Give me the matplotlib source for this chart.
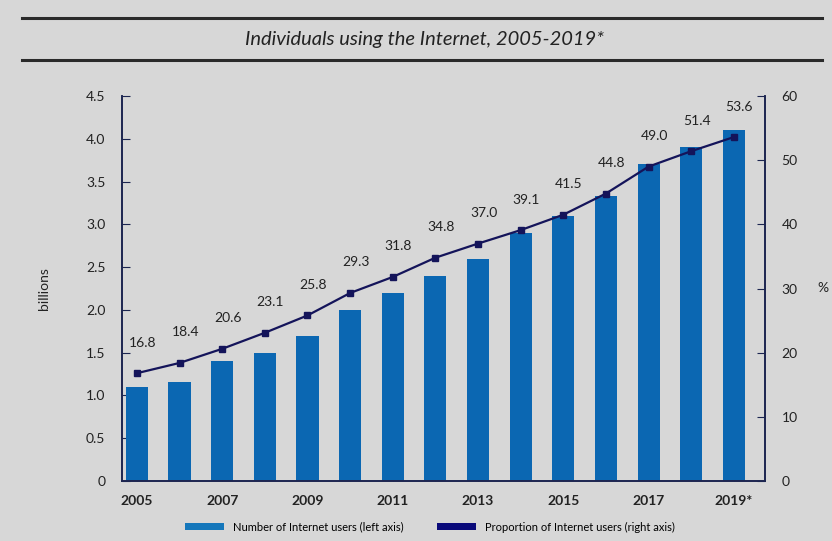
import matplotlib
matplotlib.use("Agg")
import matplotlib.pyplot as plt
from matplotlib.patches import Patch
from matplotlib.lines import Line2D
import numpy as np

plt.rcParams['font.family'] = ['Lato', 'DejaVu Sans']

years = ["2005", "2006", "2007", "2008", "2009", "2010", "2011", "2012",
         "2013", "2014", "2015", "2016", "2017", "2018", "2019*"]
users_billions = [1.1, 1.16, 1.4, 1.5, 1.7, 2.0, 2.2, 2.4, 2.6, 2.9, 3.1, 3.33, 3.7, 3.9, 4.1]
proportion_pct = [16.8, 18.4, 20.6, 23.1, 25.8, 29.3, 31.8, 34.8, 37.0, 39.1, 41.5, 44.8, 49.0, 51.4, 53.6]
left_ticks = [0, 0.5, 1.0, 1.5, 2.0, 2.5, 3.0, 3.5, 4.0, 4.5]
left_labels = ["0", "0.5", "1.0", "1.5", "2.0", "2.5", "3.0", "3.5", "4.0", "4.5"]
right_ticks = [0, 10, 20, 30, 40, 50, 60]

bg = "#d7d7d7"
bar_color = "#0b67b2"
navy = "#14145a"
spine_col = "#1c2550"

fig = plt.figure(figsize=(8.32, 5.41), dpi=100, facecolor=bg)
ax = fig.add_axes([122/832, 1-481/541, (765-122)/832, (481-96)/541])
ax.set_facecolor(bg)
x = np.arange(len(years))
ax.bar(x, users_billions, width=0.52, color=bar_color, zorder=2)
ax.set_ylim(0, 4.5)
ax.set_xlim(-0.35, len(years) - 1 + 0.73)
ax.set_yticks(left_ticks)
ax.set_yticklabels(left_labels)
ax.set_ylabel("billions", fontsize=10, color="#222222", labelpad=26)
ax.set_xticks(x[::2])
ax.set_xticklabels(years[::2], fontsize=10, fontweight='bold', color="#222222")
ax.set_xticks(x, minor=True)
ax.tick_params(axis='x', which='both', direction='in', length=4, color="#555555", pad=10)
ax.tick_params(axis='y', direction='in', length=6, color=spine_col, labelsize=10, labelcolor="#222222", pad=12)
ax.spines['top'].set_visible(False)
for s in ['left', 'bottom', 'right']:
    ax.spines[s].set_color(spine_col)
    ax.spines[s].set_linewidth(1.2)

ax2 = ax.twinx()
ax2.plot(x, proportion_pct, color=navy, linewidth=1.6, marker='s', markersize=5, zorder=3)
ax2.set_ylim(0, 60)
ax2.set_yticks(right_ticks)
ax2.tick_params(axis='y', direction='in', length=6, color=spine_col, labelsize=10, labelcolor="#222222", pad=12)
ax2.spines['top'].set_visible(False)
for s in ['left', 'bottom', 'right']:
    ax2.spines[s].set_color(spine_col)
    ax2.spines[s].set_linewidth(1.2)
ax2.set_ylabel("%", rotation=0, fontsize=10, color="#222222", labelpad=18, va='center')
for xi, v in zip(x, proportion_pct):
    ax2.annotate(f"{v:.1f}", (xi, v), xytext=(4, 22), textcoords='offset points',
                 ha='center', va='center', fontsize=10, color="#222222")

# title with rules
fig.add_artist(Line2D([22/832, 822/832], [1-18/541, 1-18/541], color="#2a2a2a", linewidth=2.2))
fig.add_artist(Line2D([22/832, 822/832], [1-60/541, 1-60/541], color="#2a2a2a", linewidth=2.2))
fig.text(425/832, 1-40/541, "Individuals using the Internet, 2005-2019*", ha='center', va='center',
         fontsize=14.5, style='italic', color="#222222")

handles = [Patch(facecolor="#1577bb", label="Number of Internet users (left axis)"),
           Patch(facecolor="#0a0a7a", label="Proportion of Internet users (right axis)")]
fig.legend(handles=handles, loc='center', bbox_to_anchor=(430/832, 1-527/541), ncol=2,
           frameon=False, fontsize=8, handlelength=3.5, handleheight=0.6, columnspacing=3)

fig.savefig("out.png", dpi=100, facecolor=bg)
